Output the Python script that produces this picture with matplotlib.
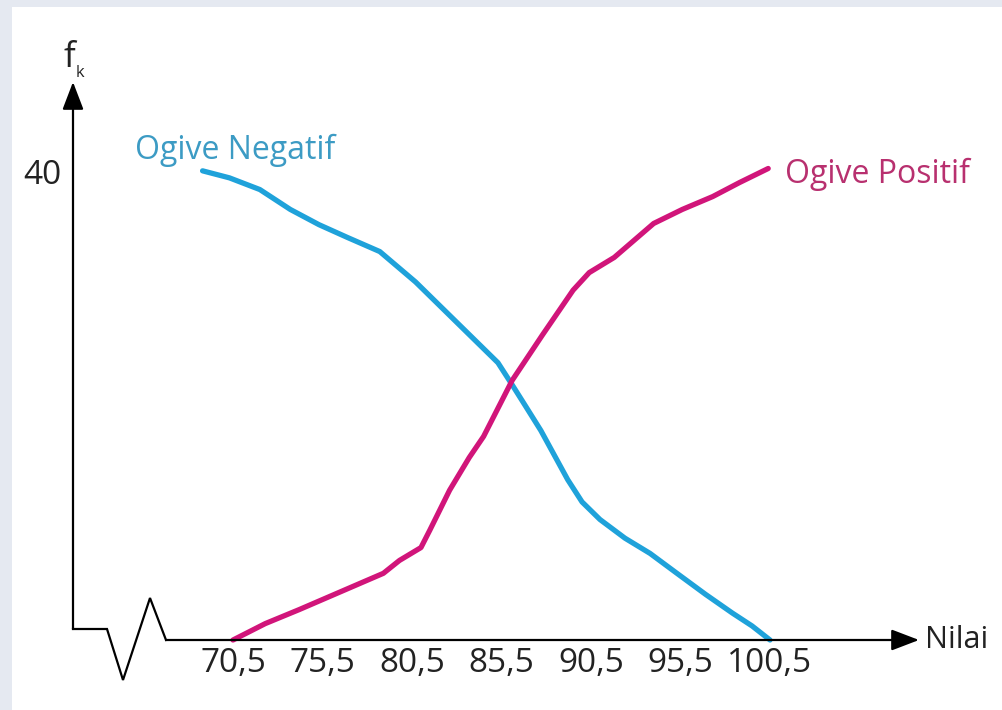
import matplotlib
matplotlib.use("Agg")
import matplotlib.pyplot as plt
from matplotlib.patches import Rectangle

plt.rcParams['font.family'] = ['Open Sans', 'DejaVu Sans']

# batas kelas (tick labels)
batas = [70.5, 75.5, 80.5, 85.5, 90.5, 95.5, 100.5]
batas_label = ['70,5', '75,5', '80,5', '85,5', '90,5', '95,5', '100,5']

# ogive negatif
neg_x = [68.8, 70.3, 72.0, 73.7, 75.3, 76.9, 78.7, 80.7, 82.5, 85.3, 86.1, 86.8, 87.7,
         89.2, 90.0, 91.0, 92.4, 93.8, 95.3, 96.9, 98.4, 99.5, 100.5]
neg_y = [40.1, 39.5, 38.5, 36.8, 35.5, 34.4, 33.2, 30.6, 27.9, 23.7, 21.8, 20.1, 17.9,
         13.7, 11.8, 10.3, 8.7, 7.4, 5.7, 3.9, 2.3, 1.2, 0.0]

# ogive positif
pos_x = [70.5, 72.3, 74.2, 78.9, 79.8, 81.0, 81.5, 82.6, 83.7, 84.5, 85.3, 86.1, 87.8,
         89.5, 90.4, 91.8, 94.0, 95.6, 97.3, 98.8, 100.4]
pos_y = [0.0, 1.4, 2.6, 5.7, 6.8, 7.9, 9.4, 12.8, 15.6, 17.4, 19.8, 22.2, 26.1,
         29.9, 31.4, 32.7, 35.6, 36.8, 37.9, 39.1, 40.3]

W, H = 1003, 710
PXX, PXY = 17.9, 11.7          # pixels per data unit
X_AT, PX_AT = 70.5, 233        # x=70.5 sits at pixel 233
PY0 = 640                      # y=0 sits at pixel row 640


def dx(px):
    return X_AT + (px - PX_AT) / PXX


def dy(py):
    return (PY0 - py) / PXY


fig = plt.figure(figsize=(W / 100, H / 100), dpi=100)
fig.patch.set_facecolor('#e5e9f1')
fig.add_artist(Rectangle((12 / W, 0), 1, (H - 7) / H, transform=fig.transFigure,
                         facecolor='white', edgecolor='none', zorder=-10))

ax = fig.add_axes([0, 0, 1, 1])
ax.patch.set_visible(False)
ax.set_xlim(dx(0), dx(W))
ax.set_ylim(dy(H), dy(0))

blue = '#1fa2da'
pink = '#d1157a'
ax.plot(neg_x, neg_y, color=blue, lw=3.8, solid_capstyle='round', solid_joinstyle='round', clip_on=False)
ax.plot(pos_x, pos_y, color=pink, lw=3.8, solid_capstyle='round', solid_joinstyle='round', clip_on=False)

# axes with break
k = 'black'
ax.plot([dx(73), dx(107), dx(123), dx(150), dx(166)],
        [dy(629), dy(629), dy(680), dy(598), dy(640)], color=k, lw=1.6, solid_joinstyle='miter')
arrow = dict(arrowstyle='-|>,head_length=17,head_width=6.5', color=k, lw=1.6,
             mutation_scale=1, shrinkA=0, shrinkB=0)
ax.annotate('', xy=(dx(73), dy(82)), xytext=(dx(73), dy(629)), arrowprops=arrow)
ax.annotate('', xy=(dx(919), 0), xytext=(dx(166), 0), arrowprops=arrow)

# ticks on invisible spines placed on the drawn axes
for s in ['top', 'right']:
    ax.spines[s].set_visible(False)
ax.spines['bottom'].set_position(('data', 0))
ax.spines['left'].set_position(('data', dx(73)))
ax.spines['bottom'].set_color('none')
ax.spines['left'].set_color('none')
ax.set_xticks(batas, batas_label)
ax.set_yticks([40], ['40'])
ax.tick_params(axis='x', length=0, pad=5, labelsize=24, labelcolor='#222222')
ax.tick_params(axis='y', length=0, pad=8, labelsize=24, labelcolor='#222222')

ax.text(dx(135), dy(159), 'Ogive Negatif', fontsize=23, color='#3c9bc4', va='baseline')
ax.text(dx(785), dy(183), 'Ogive Positif', fontsize=23, color='#b8306f', va='baseline')
ax.text(dx(925), dy(648), 'Nilai', fontsize=22, color='#222222', va='baseline')
ax.text(dx(63), dy(67), 'f', fontsize=25, color='#222222', va='baseline')
ax.text(dx(76), dy(77), 'k', fontsize=12, color='#222222', va='baseline')

fig.savefig('out.png', dpi=100, facecolor=fig.get_facecolor())
